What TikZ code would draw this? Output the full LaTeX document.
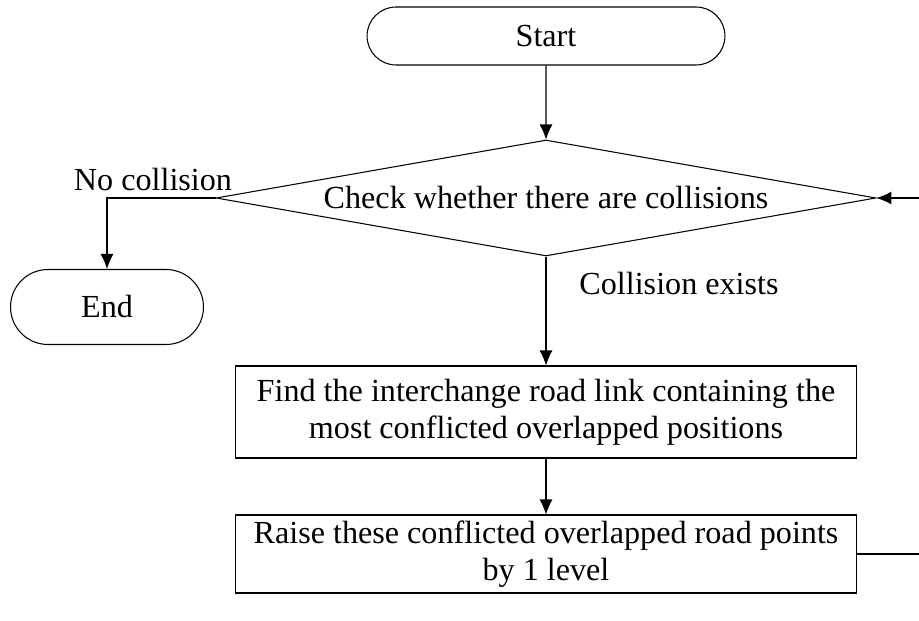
\documentclass[tikz,border=0pt]{standalone}
\usepackage{fontspec}
\setmainfont{Liberation Serif}
\usepackage{tikz}
\usetikzlibrary{arrows.meta}
\usetikzlibrary{shapes.misc, shapes.geometric}
\tikzset{>={Latex[width=2.6mm,length=3mm]}}

\begin{document}
\begin{tikzpicture}[
    x = 0.02cm, y = -0.02cm,
    font = \fontsize{18.3}{21}\selectfont,
    line width = 0.6pt,
    term/.style = {draw, rounded rectangle, minimum height=1.16cm,
        inner sep = 0mm},
    test/.style = {draw, diamond, aspect=5.7, inner sep=0mm,
        minimum width=13.2cm, minimum height=2.32cm},
    proc/.style = {draw, rectangle, minimum width=12.44cm,
        align=center, inner sep=0mm}
  ]
  \useasboundingbox (0,0) rectangle (919,621);

  \node[term, minimum width=7.16cm] (start) at (546,36) {Start};
  \node[test] (check) at (546,198) {Check whether there are collisions};
  \node[term, minimum width=3.86cm, minimum height=1.5cm] (stop) at (107,307) {End};
  \node[proc, minimum height=1.84cm] (find) at (546,412)
    {Find the interchange road link containing the\\most conflicted overlapped positions};
  \node[proc, minimum height=1.56cm] (raise) at (546,554)
    {Raise these conflicted overlapped road points\\by 1 level};

  % loop back, cut at the right border
  \coordinate (loopout) at (919,554);
  \coordinate (loopin) at (919,198);

  \draw[->] (start) -- (check);
  \draw[->] (check.west) -| (stop.north);
  \draw[->] (check.south) -- (find.north);
  \draw[->] (find) -- (raise);
  \draw (raise.east) -- (loopout);
  \draw[->] (loopin) -- (check.east);

  \node (nocoll) at (153,180) {No collision};
  \node (coll) at (679,284) {Collision exists};
\end{tikzpicture}
\end{document}
